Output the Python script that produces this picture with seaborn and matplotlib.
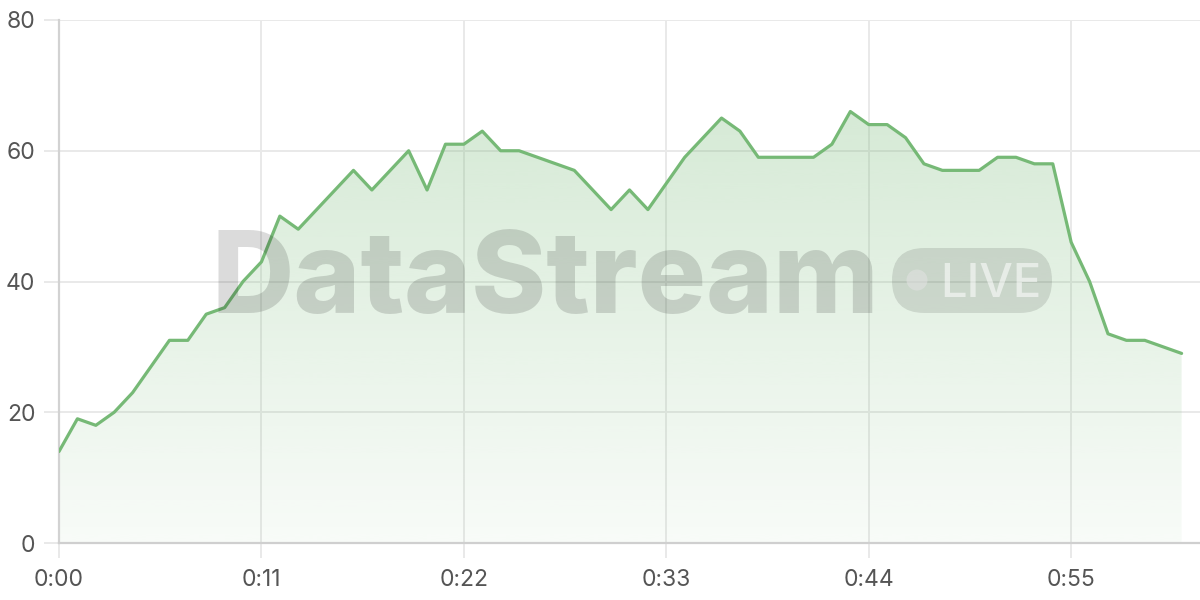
import numpy as np
import pandas as pd
import matplotlib
matplotlib.use("Agg")
import matplotlib.pyplot as plt
import seaborn as sns
from matplotlib.patches import FancyBboxPatch, Ellipse

# ---- data ----
seconds = list(range(62))
values = [14, 19, 18, 20, 23, 27, 31, 31, 35, 36,
          40, 43, 50, 48, 51, 54, 57, 54, 57, 60,
          54, 61, 61, 63, 60, 60, 59, 58, 57, 54,
          51, 54, 51, 55, 59, 62, 65, 63, 59, 59,
          59, 59, 61, 66, 64, 64, 62, 58, 57, 57,
          57, 59, 59, 58, 58, 46, 40, 32, 31, 31,
          30, 29]
tick_seconds = [0, 11, 22, 33, 44, 55]
tick_labels = ["0:00", "0:11", "0:22", "0:33", "0:44", "0:55"]
y_ticks = [0, 20, 40, 60, 80]
watermark = "DataStream"
badge = "LIVE"

df = pd.DataFrame({"t": seconds, "v": values})

sns.set_theme(style="white")
plt.rcParams["font.family"] = ["Inter", "DejaVu Sans"]

W, H = 1200, 600
fig = plt.figure(figsize=(12, 6), dpi=100)
ax = fig.add_axes([59 / W, 1 - 543 / H, (1200 - 59) / W, (543 - 20) / H])

line_color = "#76b976"
grid_color = "#e9e9e9"

# gradient fill
poly = ax.fill_between(df["t"], df["v"], 0, color="none", lw=0)
grad = np.linspace(0.30, 0.05, 256).reshape(-1, 1)
rgba = np.zeros((256, 1, 4))
rgba[..., 0] = 118 / 255
rgba[..., 1] = 185 / 255
rgba[..., 2] = 118 / 255
rgba[..., 3] = grad
im = ax.imshow(rgba, aspect="auto", extent=[0, 61, 0, max(values)],
               origin="upper", zorder=1, interpolation="bicubic")
im.set_clip_path(poly.get_paths()[0], transform=ax.transData)

sns.lineplot(data=df, x="t", y="v", ax=ax, color=line_color, lw=2.3,
             zorder=4)

ax.set_xlim(0, 62)
ax.set_ylim(0, 80)
ax.set_xticks(tick_seconds)
ax.set_xticklabels(tick_labels)
ax.set_yticks(y_ticks)
ax.set_xlabel("")
ax.set_ylabel("")

ax.grid(True, color=grid_color, lw=1.4, zorder=0)
ax.set_axisbelow(True)
for s in ["top", "right"]:
    ax.spines[s].set_visible(False)
ax.spines["left"].set_color("#d2d2d2")
ax.spines["left"].set_linewidth(1.6)
ax.spines["bottom"].set_color("#cfcfcf")
ax.spines["bottom"].set_linewidth(1.6)
ax.tick_params(axis="both", colors=grid_color, length=11, width=1.4,
               labelsize=16.5, labelcolor="#555555")
ax.tick_params(axis="y", pad=6)
ax.tick_params(axis="x", pad=8)
ax.tick_params(axis="both", direction="out", bottom=True, left=True)

# watermark
fig.text(211 / W, 1 - 313 / H, watermark, fontsize=82, fontweight="heavy",
         color=(0, 0, 0, 0.14), ha="left", va="baseline", zorder=3,
         family=["Inter", "DejaVu Sans"])
pill = FancyBboxPatch((892 / W, 1 - 313 / H), (1052 - 892) / W, 65 / H,
                      boxstyle="round,pad=0,rounding_size=0.027",
                      transform=fig.transFigure, facecolor=(0, 0, 0, 0.11),
                      edgecolor="none", zorder=3, mutation_aspect=2)
fig.patches.append(pill)
dot = Ellipse((917 / W, 1 - 280 / H), 21 / W, 21 / H,
              transform=fig.transFigure, facecolor=(1, 1, 1, 0.55),
              edgecolor="none")
fig.patches.append(dot)
fig.text(940 / W, 1 - 297 / H, badge, fontsize=34, fontweight="medium",
         color=(1, 1, 1, 0.55), ha="left", va="baseline",
         family=["Inter", "DejaVu Sans"])

fig.savefig("out.png", dpi=100)
